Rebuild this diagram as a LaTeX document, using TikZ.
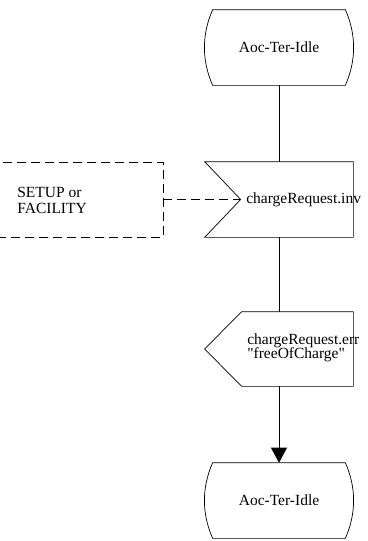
\documentclass[tikz,border=0pt]{standalone}
\usepackage{fontspec}
\setmainfont{Liberation Serif}
\usetikzlibrary{arrows.meta}

% state outline: straight top and bottom, sides bulging out
\newcommand\stateoutline[1]{%
    \draw ([xshift=8pt]#1.north west) -- ([xshift=-8pt]#1.north east)
        .. controls ([xshift=3pt,yshift=-25pt]#1.north east) and ([xshift=3pt,yshift=25pt]#1.south east) .. ([xshift=-8pt]#1.south east)
        -- ([xshift=8pt]#1.south west)
        .. controls ([xshift=-3pt,yshift=25pt]#1.south west) and ([xshift=-3pt,yshift=-25pt]#1.north west) .. cycle;}

\begin{document}
\begin{tikzpicture}[x=1pt,y=-1pt,line width=0.7pt,
    font=\fontsize{15.5}{16}\selectfont,
    symbol/.style={minimum width=148pt, minimum height=75pt, inner sep=0pt},
    sigtext/.style={anchor=west, align=left, inner sep=0pt},
    dashes/.style={dash pattern=on 9pt off 5pt}]
    \clip (0,0) rectangle (367,541);

    \node[symbol] (idle1) at (279,47.5) {Aoc-Ter-Idle};
    \stateoutline{idle1}

    \node[symbol] (inv) at (279,199.5) {};
    \draw (inv.north west) -- (inv.north east) -- (inv.south east) -- (inv.south west)
        -- ([xshift=36pt]inv.west) -- cycle;
    \coordinate (notch) at ([xshift=36pt]inv.west);
    \node[sigtext] (invtext) at (246,200) {chargeRequest.inv};

    \node[draw, dashes, minimum width=180pt, minimum height=75pt] (setup) at (73,199.5) {};
    \node[sigtext] (setuptext) at (17,200) {SETUP or\\FACILITY};

    \node[symbol, minimum height=74pt] (err) at (279,349) {};
    \draw ([xshift=37pt]err.north west) -- (err.north east) -- (err.south east)
        -- ([xshift=37pt]err.south west) -- (err.west) -- cycle;
    \node[sigtext] (errtext) at (247,348) {chargeRequest.err\\[-2pt]\textquotedbl freeOfCharge\textquotedbl};

    \node[symbol] (idle2) at (279,500.5) {Aoc-Ter-Idle};
    \stateoutline{idle2}

    \draw (idle1) -- (inv);
    \draw[dashes] (setup) -- (notch);
    \draw (inv) -- (err);
    \draw[-{Triangle[length=15pt,width=16pt]}] (err) -- (idle2);
\end{tikzpicture}
\end{document}
